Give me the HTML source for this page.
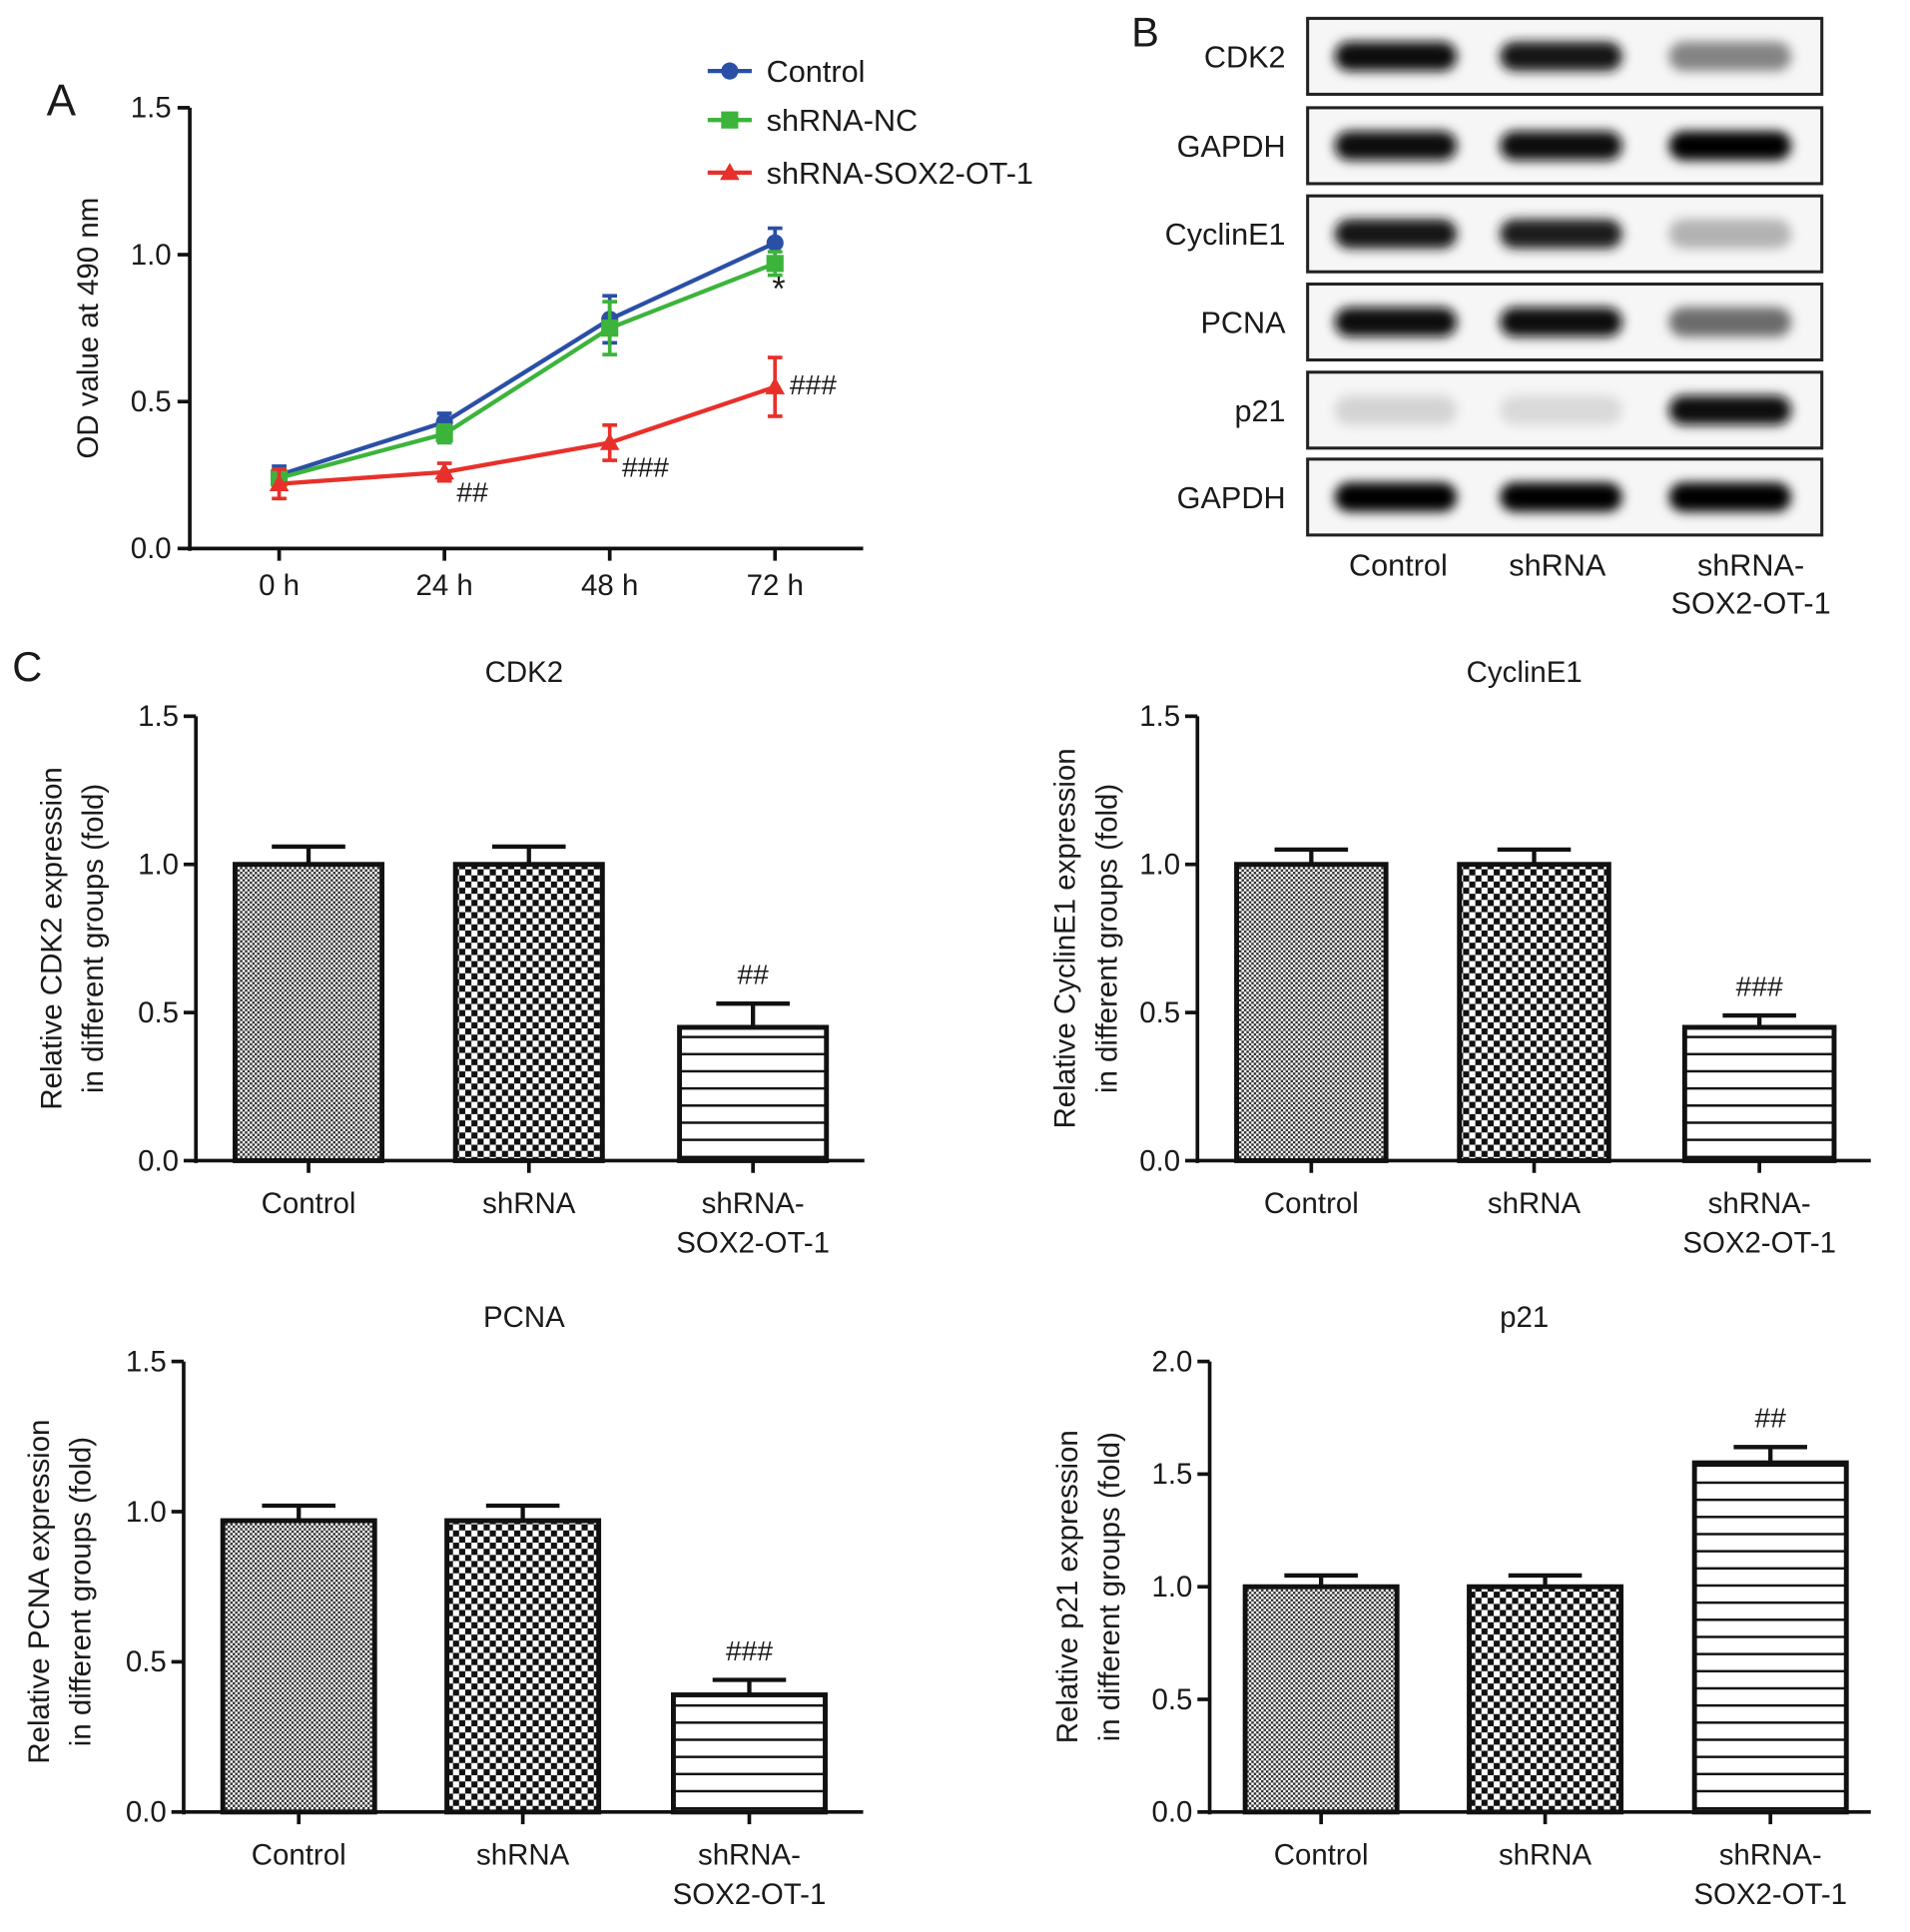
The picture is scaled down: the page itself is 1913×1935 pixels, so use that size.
<!DOCTYPE html>
<html><head><meta charset="utf-8"><style>
html,body{margin:0;padding:0;background:#fff}
svg{display:block;font-family:"Liberation Sans",Arial,sans-serif}
</style></head><body>
<svg id="fig" width="1913" height="1935" viewBox="0 0 1560 1578" preserveAspectRatio="none" xmlns="http://www.w3.org/2000/svg">
<defs>
<pattern id="pCtrl" width="4" height="4" patternUnits="userSpaceOnUse"><rect width="4" height="4" fill="#fff"/><rect width="2" height="2" fill="#333"/><rect x="2" y="2" width="2" height="2" fill="#333"/></pattern>
<pattern id="pSh" width="10" height="10" patternUnits="userSpaceOnUse"><rect width="10" height="10" fill="#fff"/><rect width="5" height="5" fill="#111"/><rect x="5" y="5" width="5" height="5" fill="#111"/></pattern>
<pattern id="pSox" width="10" height="14" patternUnits="userSpaceOnUse"><rect width="10" height="14" fill="#fff"/><rect y="6" width="10" height="2" fill="#111"/></pattern>
<filter id="blur" x="-30%" y="-80%" width="160%" height="260%"><feGaussianBlur stdDeviation="4.5"/></filter>
</defs>
</svg>
<script>
// ---- Panel A data ----
const timeLabels = ["0 h","24 h","48 h","72 h"];
const ctrlVals = [0.25,0.43,0.78,1.04];
const ctrlErr = [0.03,0.03,0.08,0.05];
const ncVals = [0.24,0.39,0.75,0.97];
const ncErr = [0.03,0.03,0.09,0.04];
const soxVals = [0.22,0.26,0.36,0.55];
const soxErr = [0.05,0.03,0.06,0.10];
const aTicks = [0,0.5,1.0,1.5];
// ---- Panel B band intensities (0..1) ----
const blotRows = ["CDK2","GAPDH","CyclinE1","PCNA","p21","GAPDH"];
const blotIntensity = [[0.95,0.92,0.45],[0.98,0.97,1.0],[0.92,0.9,0.25],[0.98,0.97,0.55],[0.1,0.08,0.98],[1.0,1.0,1.0]];
// ---- Panel C data ----
const groups = ["Control","shRNA","shRNA-SOX2-OT-1"];
const cdk2Vals = [1.0,1.0,0.45];
const cdk2Err = [0.06,0.06,0.08];
const cycVals = [1.0,1.0,0.45];
const cycErr = [0.05,0.05,0.04];
const pcnaVals = [0.97,0.97,0.39];
const pcnaErr = [0.05,0.05,0.05];
const p21Vals = [1.0,1.0,1.55];
const p21Err = [0.05,0.05,0.07];
const ticks15 = [0,0.5,1.0,1.5];
const ticks20 = [0,0.5,1.0,1.5,2.0];

const svg = document.getElementById('fig');
const NS = "http://www.w3.org/2000/svg";
function mk(tag, attrs, parent){ const e=document.createElementNS(NS,tag); for(const k in attrs) e.setAttribute(k,attrs[k]); (parent||svg).appendChild(e); return e; }
function txt(s, x, y, size, anchor, parent, extra){ const t=mk('text',Object.assign({x:x,y:y,'font-size':size,'text-anchor':anchor||'middle',fill:'#1a1a1a'},extra||{}),parent); t.textContent=s; return t; }
function fmt(v){ return v.toFixed(1); }

// ===== Panel A =====
const gA = mk('g',{});


const aX0=155, aX1=705, aY0=448, aYtop=88, aMax=1.5;
const ax = i => 228 + i*135;
const ay = v => aY0 - (v/aMax)*(aY0-aYtop);
const lA = txt('A',38,94,36,'start',gA);  
mk('line',{x1:aX0,y1:aYtop,x2:aX0,y2:aY0+2,stroke:'#111','stroke-width':3},gA);
mk('line',{x1:aX0,y1:aY0,x2:aX1,y2:aY0,stroke:'#111','stroke-width':3},gA);
aTicks.forEach(t=>{ mk('line',{x1:aX0-10,y1:ay(t),x2:aX0,y2:ay(t),stroke:'#111','stroke-width':3},gA);
  const e=txt(fmt(t),140,ay(t)+8,24,'end',gA);   });
timeLabels.forEach((l,i)=>{ mk('line',{x1:ax(i),y1:aY0,x2:ax(i),y2:aY0+10,stroke:'#111','stroke-width':3},gA);
  const e=txt(l,ax(i),486,24,'middle',gA);   });
const yA = txt('OD value at 490 nm',80,268,24,'middle',gA,{transform:'rotate(-90 80 268)'});
 
function series(vals, errs, color, marker, name){
  const g=mk('g',{},gA);
  
  
  mk('polyline',{points:vals.map((v,i)=>ax(i)+','+ay(v)).join(' '),fill:'none',stroke:color,'stroke-width':3.5},g);
  vals.forEach((v,i)=>{
    const x=ax(i), t=ay(v+errs[i]), b=ay(v-errs[i]);
    mk('line',{x1:x,y1:t,x2:x,y2:b,stroke:color,'stroke-width':3},g);
    mk('line',{x1:x-6,y1:t,x2:x+6,y2:t,stroke:color,'stroke-width':3},g);
    mk('line',{x1:x-6,y1:b,x2:x+6,y2:b,stroke:color,'stroke-width':3},g);
    drawMarker(marker,x,ay(v),color,g);
  });
}
function drawMarker(m,x,y,color,g){
  if(m==='c') mk('circle',{cx:x,cy:y,r:7,fill:color},g);
  else if(m==='s') mk('rect',{x:x-7,y:y-7,width:14,height:14,fill:color},g);
  else mk('polygon',{points:`${x},${y-8} ${x-8},${y+6} ${x+8},${y+6}`,fill:color},g);
}
series(ctrlVals,ctrlErr,'#2a4fa6','c','series-control');
series(ncVals,ncErr,'#3cb43c','s','series-shrna-nc');
series(soxVals,soxErr,'#e8302a','t','series-shrna-sox2');
[['##',1,soxVals,10,14],['###',2,soxVals,10,18],['###',3,soxVals,12,-4]].forEach(a=>{
  const e=txt(a[0],ax(a[1])+a[3],ay(a[2][a[1]])+a[4]+10,23,'start',gA);  });
const star=txt('*',ax(3)+3,ay(ncVals[3])+30,28,'middle',gA);  
[['Control','#2a4fa6','c',58],['shRNA-NC','#3cb43c','s',98],['shRNA-SOX2-OT-1','#e8302a','t',141]].forEach(L=>{
  const g=mk('g',{},gA);
  
  
  mk('line',{x1:578,y1:L[3],x2:614,y2:L[3],stroke:L[1],'stroke-width':3.5},g);
  drawMarker(L[2],596,L[3],L[1],g);
  txt(L[0],626,L[3]+9,25,'start',g);
});

// ===== Panel B =====
const gB = mk('g',{});


const lB=txt('B',924,38,34,'start',gB);  
const rowTops=[15,88,160,232,304,375];
const laneX=[1140,1275,1413];
blotRows.forEach((r,ri)=>{
  const g=mk('g',{},gB);
  
  
  const y=rowTops[ri], h=62;
  mk('rect',{x:1068,y:y,width:420,height:h,fill:'#f6f6f6',stroke:'#222','stroke-width':2.5},g);
  laneX.forEach((lx,li)=>{
    const I=blotIntensity[ri][li];
    const gray=Math.round(235-230*I);
    mk('rect',{x:lx-50,y:y+h/2-12,width:100,height:24,rx:12,fill:`rgb(${gray},${gray},${gray})`,filter:'url(#blur)'},g);
  });
  txt(r,1050,y+h/2+9,25,'end',g);
});
[['Control',1142],['shRNA',1272]].forEach(l=>{const e=txt(l[0],l[1],470,25,'middle',gB);  });
const lb3=txt('shRNA-',1430,470,25,'middle',gB);  
const lb4=txt('SOX2-OT-1',1430,501,25,'middle',gB);  
const lC=txt('C',10,556,34,'start');  

// ===== Panel C bar charts =====
function barChart(cfg){
  const g=mk('g',{});
  
  
  const y=v=> cfg.y0 - v/cfg.max*(cfg.y0-cfg.ytop);
  txt(cfg.title,cfg.titleX,cfg.ytop-28,24,'middle',g);
  mk('line',{x1:cfg.x0,y1:cfg.ytop,x2:cfg.x0,y2:cfg.y0+2,stroke:'#111','stroke-width':3},g);
  mk('line',{x1:cfg.x0,y1:cfg.y0,x2:cfg.x1,y2:cfg.y0,stroke:'#111','stroke-width':3},g);
  cfg.ticks.forEach(t=>{ mk('line',{x1:cfg.x0-10,y1:y(t),x2:cfg.x0,y2:y(t),stroke:'#111','stroke-width':3},g);
    txt(fmt(t),cfg.x0-14,y(t)+8,24,'end',g); });
  const fills=['url(#pCtrl)','url(#pSh)','url(#pSox)'];
  cfg.vals.forEach((v,i)=>{
    const cx=cfg.bx[i], w=cfg.bw;
    const b=mk('rect',{x:cx-w/2,y:y(v),width:w,height:cfg.y0-y(v),fill:fills[i],stroke:'#111','stroke-width':4},g);
    
    
    const et=y(v+cfg.errs[i]);
    mk('line',{x1:cx,y1:y(v),x2:cx,y2:et,stroke:'#111','stroke-width':3.5},g);
    mk('line',{x1:cx-30,y1:et,x2:cx+30,y2:et,stroke:'#111','stroke-width':3.5},g);
    mk('line',{x1:cx,y1:cfg.y0,x2:cx,y2:cfg.y0+10,stroke:'#111','stroke-width':3},g);
  });
  txt(cfg.mark,cfg.bx[2],y(cfg.vals[2]+cfg.errs[2])-16,23,'middle',g);
  txt('Control',cfg.bx[0],cfg.y0+43,24,'middle',g);
  txt('shRNA',cfg.bx[1],cfg.y0+43,24,'middle',g);
  txt('shRNA-',cfg.bx[2],cfg.y0+43,24,'middle',g);
  txt('SOX2-OT-1',cfg.bx[2],cfg.y0+75,24,'middle',g);
  const yc=(cfg.ytop+cfg.y0)/2+(cfg.titleShift||0);
  txt(cfg.ylab,cfg.ylx,yc,24,'middle',g,{transform:`rotate(-90 ${cfg.ylx} ${yc})`});
  txt('in different groups (fold)',cfg.ylx+34,yc,24,'middle',g,{transform:`rotate(-90 ${cfg.ylx+34} ${yc})`});
}
barChart({name:'bar-chart-cdk2',title:'CDK2',titleX:428,x0:160,x1:706,ytop:585,y0:948,max:1.5,ticks:ticks15,vals:cdk2Vals,errs:cdk2Err,bx:[252,432,615],bw:120,mark:'##',ylab:'Relative CDK2 expression',ylx:50});
barChart({name:'bar-chart-cycline1',title:'CyclinE1',titleX:1245,x0:978,x1:1528,ytop:585,y0:948,max:1.5,ticks:ticks15,vals:cycVals,errs:cycErr,bx:[1071,1253,1437],bw:122,mark:'###',ylab:'Relative CyclinE1 expression',ylx:878});
barChart({name:'bar-chart-pcna',title:'PCNA',titleX:428,x0:150,x1:705,ytop:1112,y0:1480,max:1.5,ticks:ticks15,vals:pcnaVals,errs:pcnaErr,bx:[244,427,612],bw:124,mark:'###',ylab:'Relative PCNA expression',ylx:40,titleShift:4});
barChart({name:'bar-chart-p21',title:'p21',titleX:1245,x0:988,x1:1528,ytop:1112,y0:1480,max:2.0,ticks:ticks20,vals:p21Vals,errs:p21Err,bx:[1079,1262,1446],bw:124,mark:'##',ylab:'Relative p21 expression',ylx:880});
</script>
</body></html>
